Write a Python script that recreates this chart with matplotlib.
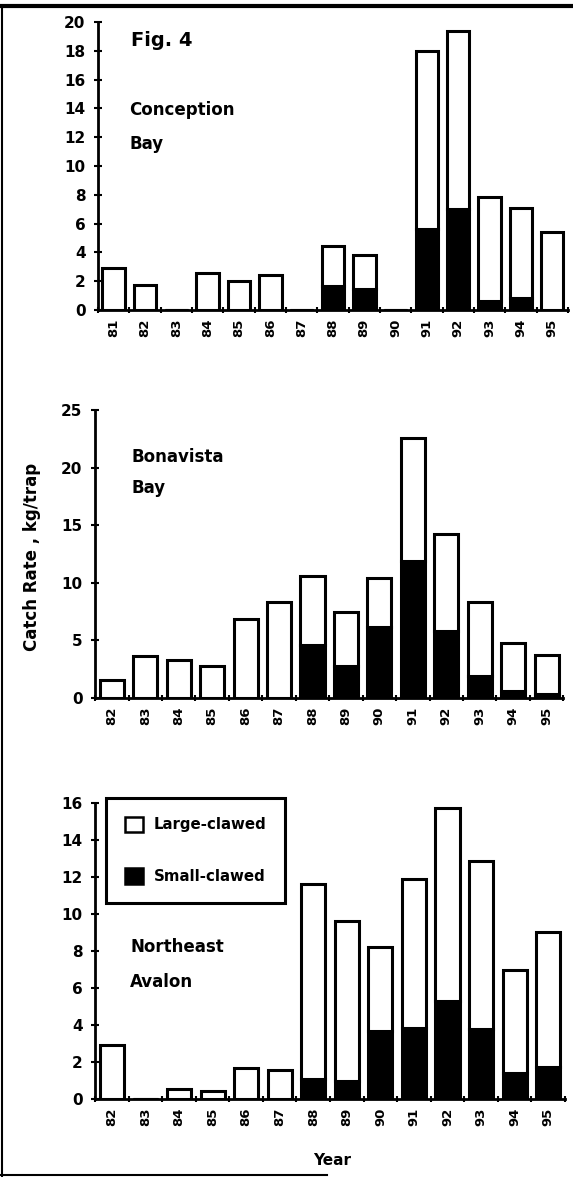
import matplotlib
matplotlib.use("Agg")
import matplotlib.pyplot as plt
from matplotlib.patches import Patch
from matplotlib.lines import Line2D
import numpy as np

plt.rcParams["font.family"] = ["DejaVu Sans"]
plt.rcParams["font.weight"] = "bold"

# Conception Bay, 1981-1995
cb_years = ["81", "82", "83", "84", "85", "86", "87", "88", "89", "90", "91", "92", "93", "94", "95"]
cb_small = [0, 0, 0, 0, 0, 0, 0, 1.7, 1.45, 0, 5.6, 7.0, 0.6, 0.85, 0]
cb_large = [2.9, 1.75, 0, 2.55, 2.0, 2.4, 0, 2.75, 2.4, 0, 12.4, 12.4, 7.25, 6.2, 5.45]

# Bonavista Bay, 1982-1995
bb_years = ["82", "83", "84", "85", "86", "87", "88", "89", "90", "91", "92", "93", "94", "95"]
bb_small = [0, 0, 0, 0, 0, 0, 4.6, 2.75, 6.2, 11.85, 5.85, 1.9, 0.6, 0.35]
bb_large = [1.6, 3.6, 3.3, 2.75, 6.85, 8.3, 6.0, 4.7, 4.2, 10.75, 8.35, 6.4, 4.2, 3.4]

# Northeast Avalon, 1982-1995
na_years = ["82", "83", "84", "85", "86", "87", "88", "89", "90", "91", "92", "93", "94", "95"]
na_small = [0, 0, 0, 0, 0, 0, 1.1, 0.95, 3.65, 3.85, 5.3, 3.8, 1.4, 1.75]
na_large = [2.9, 0, 0.55, 0.45, 1.65, 1.55, 10.5, 8.65, 4.55, 8.05, 10.4, 9.05, 5.55, 7.25]

fig = plt.figure(figsize=(5.73, 11.77), dpi=100)

panels = [
    ([0.171, 0.7366, 0.820, 0.2447], cb_years, cb_small, cb_large, (0, 20), np.arange(0, 21, 2)),
    ([0.166, 0.4070, 0.817, 0.2447], bb_years, bb_small, bb_large, (0, 25), np.arange(0, 26, 5)),
    ([0.166, 0.0663, 0.820, 0.2515], na_years, na_small, na_large, (0, 16), np.arange(0, 17, 2)),
]

axes = []
for rect, years, small, large, ylim, yticks in panels:
    ax = fig.add_axes(rect)
    x = np.arange(len(years))
    ax.bar(x, small, width=0.72, color="black", edgecolor="black", linewidth=2.2)
    ax.bar(x, large, bottom=small, width=0.72, color="white", edgecolor="black", linewidth=2.2)
    ax.set_xlim(-0.5, len(years) - 0.5)
    ax.set_ylim(*ylim)
    ax.set_yticks(yticks)
    ax.set_xticks(x)
    ax.set_xticklabels(years, rotation=90, fontsize=9.5, fontweight="bold")
    ax.set_xticks(np.arange(len(years) + 1) - 0.5, minor=True)
    ax.tick_params(axis="x", which="major", length=0, pad=6)
    ax.tick_params(axis="x", which="minor", length=5, width=1.5, direction="inout")
    ax.tick_params(axis="y", length=6, width=1.5, direction="inout", labelsize=11, pad=6)
    for lab in ax.get_yticklabels():
        lab.set_fontweight("bold")
    for s in ["top", "right"]:
        ax.spines[s].set_visible(False)
    for s in ["left", "bottom"]:
        ax.spines[s].set_linewidth(2)
    axes.append(ax)

ax1, ax2, ax3 = axes

ax1.text(0.55, 18.7, "Fig. 4", fontsize=14, fontweight="bold", va="center")
ax1.text(0.5, 13.9, "Conception", fontsize=12, fontweight="bold", va="center")
ax1.text(0.5, 11.5, "Bay", fontsize=12, fontweight="bold", va="center")

ax2.text(0.6, 20.9, "Bonavista", fontsize=12, fontweight="bold", va="center")
ax2.text(0.6, 18.2, "Bay", fontsize=12, fontweight="bold", va="center")

ax3.text(0.55, 8.2, "Northeast", fontsize=12, fontweight="bold", va="center")
ax3.text(0.55, 6.3, "Avalon", fontsize=12, fontweight="bold", va="center")

handles = [
    Patch(facecolor="white", edgecolor="black", linewidth=1.8, label="Large-clawed"),
    Patch(facecolor="black", edgecolor="black", linewidth=1.8, label="Small-clawed"),
]
leg = ax3.legend(handles=handles, loc="upper left", bbox_to_anchor=(0.023, 1.017),
                 frameon=True, fancybox=False, edgecolor="black", framealpha=1,
                 fontsize=10.8, labelspacing=2.4, borderpad=1.25, handlelength=1.25,
                 handleheight=1.2, handletextpad=0.7, borderaxespad=0)
leg.get_frame().set_linewidth(2.2)

fig.text(0.055, 0.527, "Catch Rate , kg/trap", rotation=90, fontsize=12,
         fontweight="bold", ha="center", va="center")
fig.text(0.58, 0.014, "Year", fontsize=11, fontweight="bold", ha="center", va="center")

# page frame lines
fig.add_artist(Line2D([0, 1], [0.9945, 0.9945], color="black", linewidth=3, transform=fig.transFigure))
fig.add_artist(Line2D([0.004, 0.004], [0, 0.9945], color="black", linewidth=1.5, transform=fig.transFigure))
fig.add_artist(Line2D([0, 0.57], [0.0015, 0.0015], color="black", linewidth=1.5, transform=fig.transFigure))

fig.savefig("out.png", dpi=100)
